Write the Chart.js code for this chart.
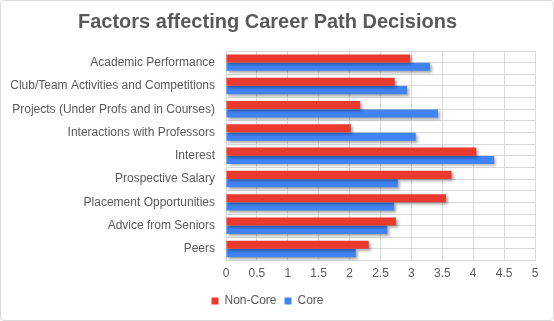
<!DOCTYPE html>
<html><head><meta charset="utf-8">
<script src="https://cdn.jsdelivr.net/npm/chart.js@4/dist/chart.umd.min.js"></script>
<style>
html,body{margin:0;padding:0;background:#fff;}
#wrap{position:relative;width:554px;height:321px;}
#frame{position:absolute;left:0;top:0;width:552px;height:319px;border:1px solid #d9d9d9;border-radius:4px;pointer-events:none;}
</style></head>
<body>
<div id="wrap"><canvas id="c" width="554" height="321"></canvas><div id="frame"></div></div>
<script>
const categories = ['Academic Performance','Club/Team Activities and Competitions','Projects (Under Profs and in Courses)','Interactions with Professors','Interest','Prospective Salary','Placement Opportunities','Advice from Seniors','Peers'];
const nonCore = [2.98, 2.73, 2.17, 2.02, 4.05, 3.65, 3.56, 2.75, 2.31];
const core = [3.30, 2.93, 3.43, 3.07, 4.34, 2.78, 2.72, 2.61, 2.10];
const seriesNames = ['Non-Core', 'Core'];
const xMin = 0, xMax = 5, xStep = 0.5;

const FONT = "'Liberation Sans', Arial, sans-serif";
const TXT = '#595959';
const GRID = '#d9d9d9';

const shadowPlugin = {
  id: 'barShadow',
  beforeDatasetsDraw(chart) {
    const ctx = chart.ctx;
    ctx.save();
    ctx.shadowColor = 'rgba(0,0,0,0.35)';
    ctx.shadowBlur = 3;
    ctx.shadowOffsetX = 2;
    ctx.shadowOffsetY = 2;
  },
  afterDatasetsDraw(chart) { chart.ctx.restore(); }
};

new Chart(document.getElementById('c'), {
  type: 'bar',
  data: {
    labels: categories,
    datasets: [
      { label: seriesNames[0], data: nonCore, backgroundColor: '#ea3a2e', categoryPercentage: 0.72, barPercentage: 0.96 },
      { label: seriesNames[1], data: core, backgroundColor: '#3f83f4', categoryPercentage: 0.72, barPercentage: 0.96 }
    ]
  },
  options: {
    indexAxis: 'y',
    responsive: false,
    animation: false,
    layout: { padding: { left: 0, right: 19, top: 0, bottom: 4 } },
    plugins: {
      title: {
        display: true,
        text: 'Factors affecting Career Path Decisions',
        color: TXT,
        font: { family: FONT, size: 20, weight: 'bold' },
        padding: { top: 10, bottom: 17 }
      },
      legend: {
        position: 'bottom',
        labels: {
          color: TXT,
          font: { family: FONT, size: 12 },
          boxWidth: 7, boxHeight: 7,
          padding: 8
        }
      },
      tooltip: { enabled: false }
    },
    scales: {
      x: {
        min: xMin, max: xMax,
        ticks: { stepSize: xStep, color: TXT, font: { family: FONT, size: 12 }, padding: 6,
          callback: (v) => String(Math.round(v * 10) / 10) },
        grid: { color: GRID, drawTicks: false },
        border: { display: false }
      },
      y: {
        ticks: { color: TXT, font: { family: FONT, size: 12 }, padding: 11 },
        grid: { color: GRID, drawTicks: false, offset: true },
        border: { color: GRID },
        afterFit(s) { s.width = 226; }
      },
      y2: {
        type: 'category',
        labels: categories,
        position: 'left',
        offset: true,
        ticks: { display: false },
        grid: { color: GRID, drawTicks: false, offset: false },
        border: { display: false },
        afterFit(s) { s.width = 0; }
      }
    }
  },
  plugins: [shadowPlugin]
});
</script>
</body></html>
